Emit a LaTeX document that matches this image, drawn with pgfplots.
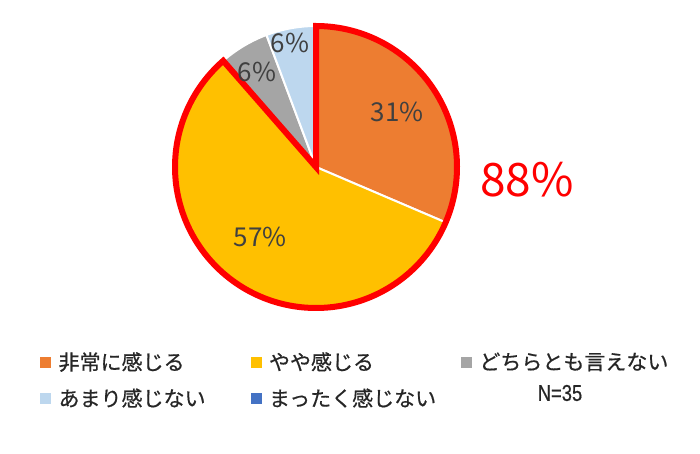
\documentclass[border=0pt]{standalone}
\usepackage{fontspec}
\usepackage{graphicx}
\usepackage{pgfplots}
\usepackage{pgfplotstable}
\pgfplotsset{compat=1.18}
\setmainfont{Noto Sans CJK JP}
\newfontfamily\legfont{Noto Sans CJK JP}[FakeBold=0.6]
\newfontfamily\narrowfont{Liberation Sans}[FakeBold=0.6]
\definecolor{cA}{HTML}{ED7D31}
\definecolor{cB}{HTML}{FFC000}
\definecolor{cC}{HTML}{A5A5A5}
\definecolor{cD}{HTML}{BDD7EE}
\definecolor{cE}{HTML}{4472C4}
\definecolor{lab}{HTML}{404040}
\definecolor{tcol}{HTML}{262626}
\pgfplotstableread{
idx value
1 11
2 20
3 2
4 2
5 0
}\piedata
\pgfplotstablegetelem{0}{value}\of\piedata\edef\va{\pgfplotsretval}
\pgfplotstablegetelem{1}{value}\of\piedata\edef\vb{\pgfplotsretval}
\pgfplotstablegetelem{2}{value}\of\piedata\edef\vc{\pgfplotsretval}
\pgfplotstablegetelem{3}{value}\of\piedata\edef\vd{\pgfplotsretval}
\pgfplotstablegetelem{4}{value}\of\piedata\edef\ve{\pgfplotsretval}
\pgfmathsetmacro\tot{\va+\vb+\vc+\vd+\ve}
\pgfmathsetmacro\aA{90}
\pgfmathsetmacro\aB{\aA-360*\va/\tot}
\pgfmathsetmacro\aC{\aB-360*\vb/\tot}
\pgfmathsetmacro\aD{\aC-360*\vc/\tot}
\pgfmathsetmacro\aE{\aD-360*\vd/\tot}
\def\cx{316}\def\cy{286}\def\rr{141}
\begin{document}
\begin{tikzpicture}
\path[use as bounding box] (0,0) rectangle (700pt,453pt);
\begin{axis}[at={(0pt,0pt)}, anchor=south west, scale only axis,
  width=700pt, height=453pt, xmin=0, xmax=700, ymin=0, ymax=453,
  axis lines=none, clip=false,
  legend image code/.code={\fill[#1] (0pt,-5pt) rectangle (10pt,5pt);},
  legend cell align=left,
  legend style={at={(axis cs:40,101)}, anchor=north west, draw=none, fill=none,
    inner sep=0pt, legend columns=3, row sep=17pt,
    font=\legfont\fontsize{21}{21}\selectfont, text=tcol,
    nodes={inner sep=0pt},
    /tikz/every odd column/.append style={column sep=8pt},
    /tikz/every even column/.append style={column sep=12pt}},
]
\addplot[fill=cA, draw=white, line width=2pt, domain=\aB:\aA, samples=80, forget plot]
  ({\cx+\rr*cos(x)},{\cy+\rr*sin(x)}) -- (\cx,\cy) -- cycle;
\addplot[fill=cB, draw=white, line width=2pt, domain=\aC:\aB, samples=120, forget plot]
  ({\cx+\rr*cos(x)},{\cy+\rr*sin(x)}) -- (\cx,\cy) -- cycle;
\addplot[fill=cC, draw=white, line width=2pt, domain=\aD:\aC, samples=30, forget plot]
  ({\cx+\rr*cos(x)},{\cy+\rr*sin(x)}) -- (\cx,\cy) -- cycle;
\addplot[fill=cD, draw=white, line width=2pt, domain=\aE:\aD, samples=30, forget plot]
  ({\cx+\rr*cos(x)},{\cy+\rr*sin(x)}) -- (\cx,\cy) -- cycle;
\addplot[draw=red, line width=6pt, line join=miter, domain=\aC:\aA, samples=200, forget plot]
  ({\cx+\rr*cos(x)},{\cy+\rr*sin(x)}) -- (\cx,\cy) -- cycle;
\addlegendimage{cA}\addlegendentry{\makebox[180pt][l]{非常に感じる}}
\addlegendimage{cB}\addlegendentry{\makebox[180pt][l]{やや感じる}}
\addlegendimage{cC}\addlegendentry{\makebox[180pt][l]{どちらとも言えない}}
\addlegendimage{cD}\addlegendentry{\makebox[180pt][l]{あまり感じない}}
\addlegendimage{cE}\addlegendentry{\makebox[180pt][l]{まったく感じない}}
\node[text=lab, font=\fontsize{26}{26}\selectfont] at (397,341) {31\%};
\node[text=lab, font=\fontsize{26}{26}\selectfont] at (260,216) {57\%};
\node[text=lab, font=\fontsize{26}{26}\selectfont] at (257,381) {6\%};
\node[text=lab, font=\fontsize{26}{26}\selectfont] at (290,410) {6\%};
\node[text=red, font=\fontsize{46}{46}\selectfont] at (527,273) {88\%};
\node[text=tcol] at (560,60) {\scalebox{0.8}[1]{\narrowfont\fontsize{23}{23}\selectfont N=35}};
\end{axis}
\end{tikzpicture}
\end{document}
